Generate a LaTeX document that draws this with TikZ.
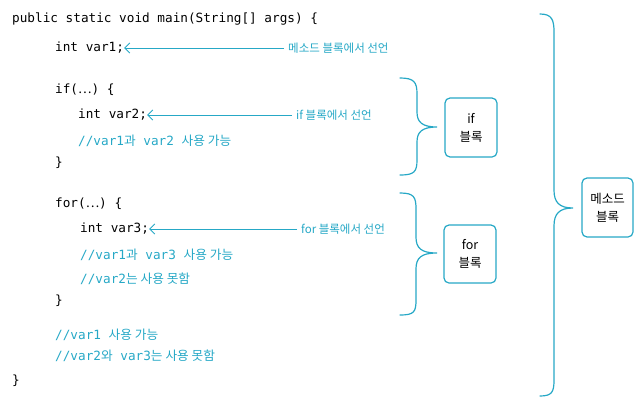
\documentclass[tikz,border=0pt]{standalone}
\usetikzlibrary{arrows.meta}
\usepackage{fontspec}
\setmainfont{Noto Sans CJK KR}
\newfontfamily\mono{DejaVu Sans Mono}
\newfontfamily\kr{Noto Sans CJK KR}
\begin{document}
\begin{tikzpicture}[x=1pt,y=-1pt,
  code/.style={anchor=west,inner sep=0pt,font=\mono\fontsize{12.7}{13}\selectfont},
  cmt/.style={code,text=teal1},
  lab/.style={anchor=west,inner sep=0pt,text=teal1,font=\kr\fontsize{11.5}{12}\selectfont},
  arr/.style={draw=teal1,line width=0.8pt,-{Straight Barb[length=5pt]}},
  brace/.style={draw=teal1,line width=1.2pt,line cap=round},
  box/.style={draw=teal1,line width=1.2pt,rounded corners=5pt,align=center,font=\kr\fontsize{12.5}{18}\selectfont,inner sep=0pt}]
\definecolor{teal1}{RGB}{38,168,198}
\useasboundingbox (0,0) rectangle (643,413);
\node[code] (l1) at (12,19) {public static void main(String[] args) \{};
\node[code] (v1) at (55,48) {int var1;};
\node[code] (if) at (55,90) {if(\kr …\mono) \{};
\node[code] (v2) at (78,115) {int var2;};
\node[cmt] (c1) at (78,141) {//var1{\kr 과} var2 {\kr 사용 가능}};
\node[code] (e1) at (55,163) {\}};
\node[code] (for) at (55,204) {for(\kr …\mono) \{};
\node[code] (v3) at (80,229) {int var3;};
\node[cmt] (c2) at (80,255) {//var1{\kr 과} var3 {\kr 사용 가능}};
\node[cmt] (c3) at (80,279) {//var2{\kr 는 사용 못함}};
\node[code] (e2) at (55,301) {\}};
\node[cmt] (c4) at (55,335) {//var1 {\kr 사용 가능}};
\node[cmt] (c5) at (55,356) {//var2{\kr 와} var3{\kr 는 사용 못함}};
\node[code] (e3) at (12,381) {\}};
\node[lab] (a1) at (288,48) {메소드 블록에서 선언};
\node[lab] (a2) at (296,115) {if 블록에서 선언};
\node[lab] (a3) at (301,229) {for 블록에서 선언};
\draw[arr] (a1.west) ++(-4,0) -- (v1.east);
\draw[arr] (a2.west) ++(-4,0) -- (v2.east);
\draw[arr] (a3.west) ++(-4,0) -- (v3.east);
% braces
\draw[brace] (400,78) .. controls (414,78) and (417,82) .. (417,94) -- (417,112) .. controls (417,122) and (422,127) .. (437,127)
  .. controls (422,127) and (417,132) .. (417,142) -- (417,160) .. controls (417,172) and (414,175) .. (400,175);
\draw[brace] (400,193) .. controls (414,193) and (416,197) .. (416,209) -- (416,237) .. controls (416,248) and (421,253) .. (437,253)
  .. controls (421,253) and (416,258) .. (416,269) -- (416,300) .. controls (416,312) and (414,315) .. (400,315);
\draw[brace] (540,14) .. controls (552,14) and (554,20) .. (554,32) -- (554,190) .. controls (554,202) and (559,208) .. (573,208)
  .. controls (559,208) and (554,214) .. (554,226) -- (554,380) .. controls (554,392) and (552,396) .. (540,396);
\node[box,minimum width=52pt,minimum height=59pt] (b1) at (471,127.5) {if\\블록};
\node[box,minimum width=52pt,minimum height=58pt] (b2) at (470,254) {for\\블록};
\node[box,minimum width=51pt,minimum height=59pt] (b3) at (607.5,207.5) {메소드\\블록};
\end{tikzpicture}
\end{document}
